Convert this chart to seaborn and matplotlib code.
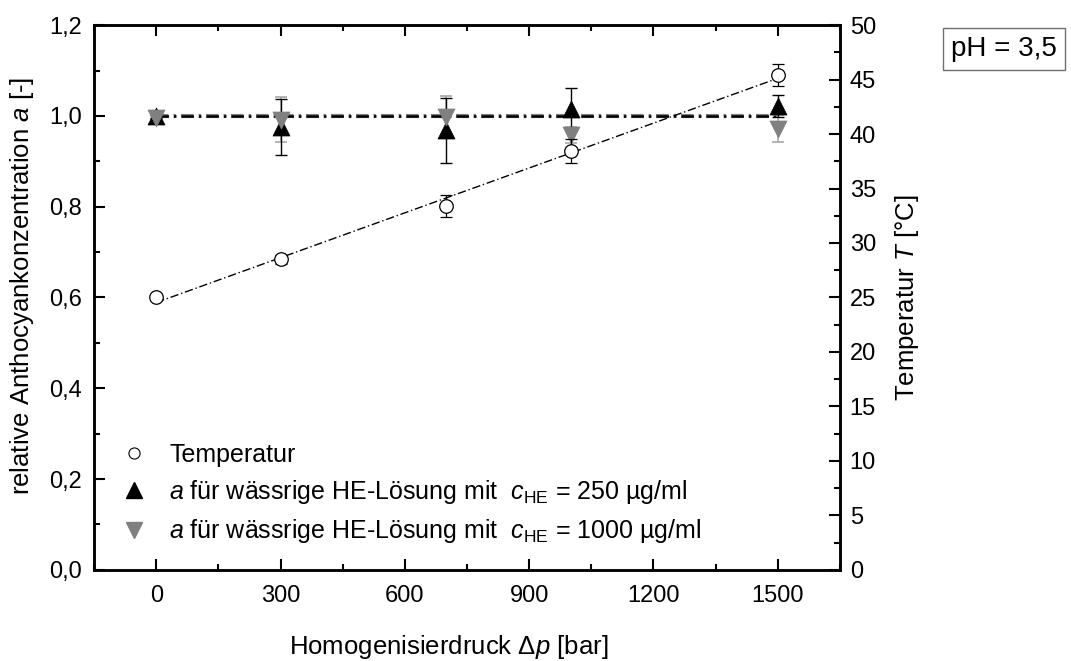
import numpy as np
import pandas as pd
import matplotlib
matplotlib.use("Agg")
import matplotlib.pyplot as plt
import seaborn as sns
from matplotlib.lines import Line2D
from matplotlib.ticker import MultipleLocator, FuncFormatter

# Homogenising pressure levels [bar]
pressure = [0, 300, 700, 1000, 1500]

# Outlet temperature [°C] with standard deviation
temperature = [25.0, 28.5, 33.4, 38.4, 45.4]
temperature_err = [0.2, 0.4, 1.0, 1.1, 1.0]

# Relative anthocyanin concentration, c_HE = 250 µg/ml
a_250 = [1.000, 0.975, 0.968, 1.016, 1.022]
a_250_err = [0.005, 0.062, 0.072, 0.046, 0.025]

# Relative anthocyanin concentration, c_HE = 1000 µg/ml
a_1000 = [0.995, 0.992, 0.998, 0.958, 0.972]
a_1000_err = [0.005, 0.050, 0.045, 0.018, 0.030]

legend_labels = [
    "Temperatur",
    r"$\it{a}$ für wässrige HE-Lösung mit  $\it{c}_{\rm HE}$ = 250 µg/ml",
    r"$\it{a}$ für wässrige HE-Lösung mit  $\it{c}_{\rm HE}$ = 1000 µg/ml",
]

sns.set_theme(style="white")
plt.rcParams["font.family"] = ["Liberation Sans", "DejaVu Sans"]
plt.rcParams["mathtext.fontset"] = "custom"
plt.rcParams["mathtext.rm"] = "Liberation Sans"
plt.rcParams["mathtext.it"] = "Liberation Sans:italic"
plt.rcParams["mathtext.bf"] = "Liberation Sans:bold"
for key in ("text.color", "axes.labelcolor", "xtick.color", "ytick.color"):
    plt.rcParams[key] = "black"

FS_TICK = 17
FS_LABEL = 18.5
FS_LEG = 18
GRAY = "#808080"
GRAY_ERR = "#a8a8a8"

df = pd.DataFrame({
    "p": pressure, "T": temperature, "T_err": temperature_err,
    "a250": a_250, "a250_err": a_250_err,
    "a1000": a_1000, "a1000_err": a_1000_err,
})

fig = plt.figure(figsize=(10.71, 6.61), dpi=100)
ax = fig.add_axes([0.0878, 0.138, 0.6965, 0.824])
ax2 = ax.twinx()

# reference lines at a = 1 for both concentrations (same dash period in points)
dash_pt = np.array([9.0, 3.6, 1.8, 3.6])
ax.plot([0, 1500], [1.0, 1.0], color=GRAY, lw=3.0,
        ls=(0, tuple(dash_pt / 3.0)), zorder=2)
ax.plot([0, 1500], [1.0, 1.0], color="black", lw=1.8,
        ls=(0, tuple(dash_pt / 1.8)), zorder=2.1)

# error bars
ax.errorbar(df["p"], df["a1000"], yerr=df["a1000_err"], fmt="none",
            ecolor=GRAY_ERR, elinewidth=1.2, capsize=4, capthick=1.2, zorder=3)
ax.errorbar(df["p"], df["a250"], yerr=df["a250_err"], fmt="none",
            ecolor="black", elinewidth=1.0, capsize=4, capthick=1.0, zorder=3)

sns.scatterplot(data=df, x="p", y="a250", marker="^", s=150, color="black",
                edgecolor="black", linewidth=0.5, ax=ax, zorder=4, legend=False)
sns.scatterplot(data=df, x="p", y="a1000", marker="v", s=150, color=GRAY,
                edgecolor=GRAY, linewidth=0.5, ax=ax, zorder=4.5, legend=False)

# temperature on the secondary axis with linear trend
coef = np.polyfit(df["p"], df["T"], 1)
p_fit = np.array([pressure[0], pressure[-1]])
ax2.plot(p_fit, np.polyval(coef, p_fit), color="black", lw=1.0,
         ls=(0, (6, 2, 1, 2)), zorder=2)
ax2.errorbar(df["p"], df["T"], yerr=df["T_err"], fmt="none", ecolor="black",
             elinewidth=0.9, capsize=4, capthick=0.9, zorder=3)
sns.scatterplot(data=df, x="p", y="T", marker="o", s=95, color="white",
                edgecolor="black", linewidth=0.9, ax=ax2, zorder=4, legend=False)

ax.set_xlim(-150, 1650)
ax.set_ylim(0, 1.2)
ax2.set_ylim(0, 50)

ax.xaxis.set_major_locator(MultipleLocator(300))
ax.xaxis.set_minor_locator(MultipleLocator(150))
ax.yaxis.set_major_locator(MultipleLocator(0.2))
ax.yaxis.set_minor_locator(MultipleLocator(0.1))
ax2.yaxis.set_major_locator(MultipleLocator(5))
ax2.yaxis.set_minor_locator(MultipleLocator(2.5))
ax.yaxis.set_major_formatter(FuncFormatter(lambda v, _: f"{v:.1f}".replace(".", ",")))
ax2.yaxis.set_major_formatter(FuncFormatter(lambda v, _: f"{v:.0f}"))

ax.tick_params(axis="x", which="both", direction="in", top=True, bottom=True,
               labelsize=FS_TICK, pad=11, width=1.5)
ax.tick_params(axis="y", which="both", direction="in", left=True, right=False,
               labelsize=FS_TICK, pad=9, width=1.5)
ax.tick_params(which="major", length=8)
ax.tick_params(which="minor", length=4.5)
ax2.tick_params(axis="y", which="both", direction="in", right=True,
                labelsize=FS_TICK, pad=7, width=1.5)
ax2.tick_params(which="major", length=8)
ax2.tick_params(which="minor", length=4.5)

for a_ in (ax, ax2):
    for s in a_.spines.values():
        s.set_linewidth(1.8)
        s.set_color("black")

ax.set_xlabel(r"Homogenisierdruck $\Delta\it{p}$ [bar]", fontsize=FS_LABEL)
ax.xaxis.set_label_coords(0.476, -0.116)
ax.set_ylabel(r"relative Anthocyankonzentration $\it{a}$ [-]", fontsize=FS_LABEL)
ax.yaxis.set_label_coords(-0.078, 0.521)
ax2.set_ylabel(r"Temperatur $\it{T}$ [°C]", fontsize=FS_LABEL, labelpad=12)

# legend with proxy handles
handles = [
    Line2D([], [], ls="none", marker="o", ms=8, mfc="white", mec="black", mew=0.8),
    Line2D([], [], ls="none", marker="^", ms=11, mfc="black", mec="black"),
    Line2D([], [], ls="none", marker="v", ms=11, mfc=GRAY, mec=GRAY),
]
ax.legend(handles, legend_labels, loc="lower left", bbox_to_anchor=(0.0, 0.008),
          frameon=False, fontsize=FS_LEG, handletextpad=0.6, handlelength=1.6,
          labelspacing=0.45, borderaxespad=0.4)

fig.text(0.888, 0.926, "pH = 3,5", fontsize=20, ha="left", va="center",
         bbox=dict(boxstyle="square,pad=0.3", fc="white", ec="#707070", lw=1.0))

fig.savefig("out.png", dpi=100)
